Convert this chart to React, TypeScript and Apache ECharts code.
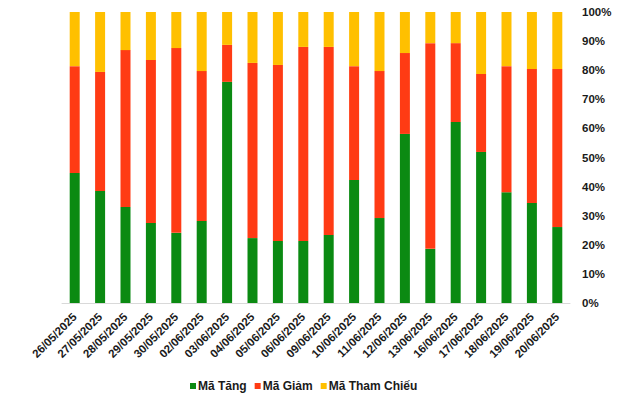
import React, { useEffect, useRef } from "react";
import * as echarts from "echarts";

const categories = [
  "26/05/2025", "27/05/2025", "28/05/2025", "29/05/2025", "30/05/2025",
  "02/06/2025", "03/06/2025", "04/06/2025", "05/06/2025", "06/06/2025",
  "09/06/2025", "10/06/2025", "11/06/2025", "12/06/2025", "13/06/2025",
  "16/06/2025", "17/06/2025", "18/06/2025", "19/06/2025", "20/06/2025",
];

// percentages
const maTang = [44.7, 38.5, 33.0, 27.5, 24.1, 28.2, 76.0, 22.3, 21.3, 21.3, 23.4, 42.3, 29.2, 58.1, 18.6, 62.2, 51.9, 38.1, 34.4, 26.1];
const maGiam = [36.7, 40.9, 53.9, 56.0, 63.5, 51.5, 12.7, 60.2, 60.5, 66.7, 64.6, 39.1, 50.5, 27.8, 70.7, 27.1, 26.8, 43.3, 46.0, 54.3];
const maThamChieu = [18.6, 20.6, 13.1, 16.5, 12.4, 20.3, 11.3, 17.5, 18.2, 12.0, 12.0, 18.6, 20.3, 14.1, 10.7, 10.7, 21.3, 18.6, 19.6, 19.6];

const seriesNames = ["Mã Tăng", "Mã Giảm", "Mã Tham Chiếu"];
const colors = ["#0B8A12", "#FF3B14", "#FFC000"];

export default function App() {
  const ref = useRef<HTMLDivElement>(null);
  useEffect(() => {
    const chart = echarts.init(ref.current!, null, { renderer: "svg" });
    const font = "Liberation Sans, Arial, sans-serif";
    const dataSets = [maTang, maGiam, maThamChieu];
    chart.setOption({
      animation: false,
      grid: { left: 62, right: 70, top: 12, bottom: 93, containLabel: false },
      legend: {
        top: 379,
        left: 190,
        padding: 0,
        itemWidth: 6,
        itemHeight: 6,
        itemGap: 8,
        icon: "rect",
        textStyle: { fontFamily: font, fontSize: 12, lineHeight: 14, fontWeight: "bold", color: "#1a1a1a", padding: [0, 0, 0, -3] },
        data: seriesNames,
      },
      xAxis: {
        type: "category",
        data: categories,
        axisLine: { lineStyle: { color: "#d9d9d9" } },
        axisTick: { show: false },
        axisLabel: {
          rotate: 45,
          interval: 0,
          margin: 12,
          fontFamily: font,
          fontSize: 11.5,
          fontWeight: "bold",
          color: "#1a1a1a",
        },
      },
      yAxis: {
        type: "value",
        position: "right",
        min: 0,
        max: 100,
        interval: 10,
        splitLine: { show: false },
        axisLine: { show: false },
        axisTick: { show: false },
        axisLabel: {
          margin: 12,
          formatter: "{value}%",
          fontFamily: font,
          fontSize: 11.5,
          fontWeight: "bold",
          color: "#1a1a1a",
        },
      },
      series: seriesNames.map((name, i) => ({
        name,
        type: "bar",
        stack: "total",
        barWidth: 10,
        itemStyle: { color: colors[i] },
        data: dataSets[i],
      })),
    });
    return () => chart.dispose();
  }, []);
  return (
    <div
      ref={ref}
      style={{ position: "fixed", left: 0, top: 0, width: 640, height: 396, background: "#fff" }}
    />
  );
}
